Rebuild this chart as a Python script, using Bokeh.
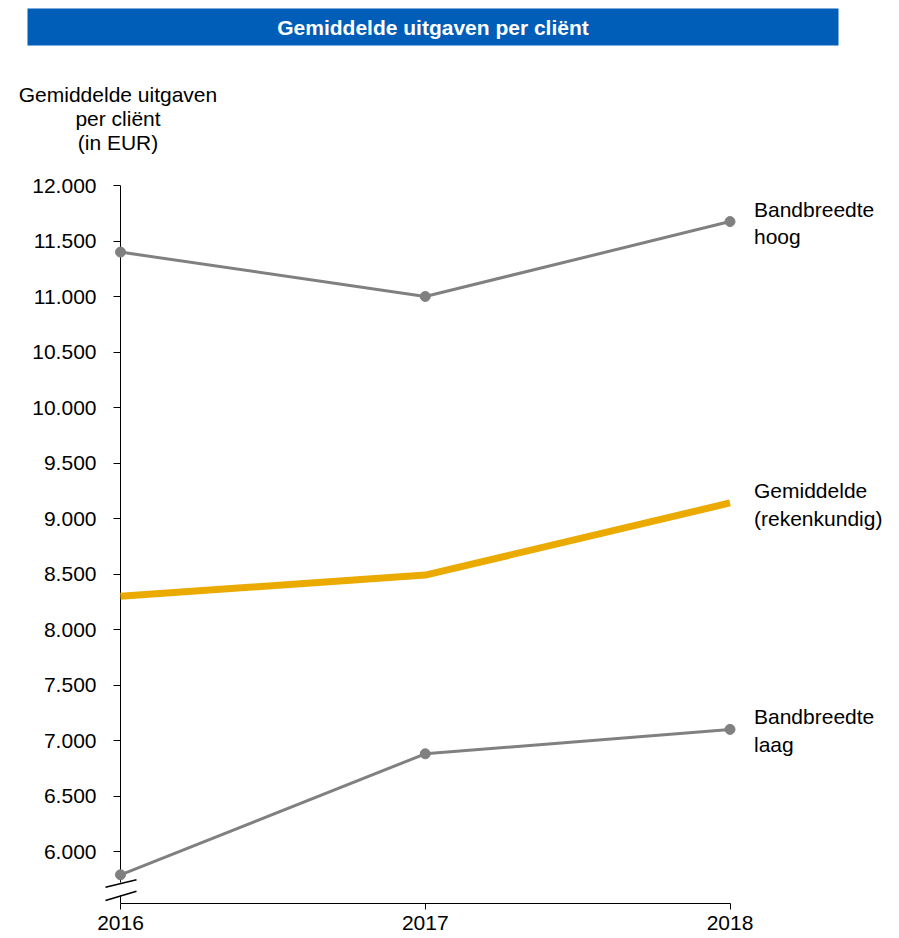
from bokeh.plotting import figure
from bokeh.models import Range1d, FixedTicker, BoxAnnotation, Label, Arrow, ColumnDataSource
from bokeh.core.properties import value
from bokeh.embed import file_html
from bokeh.resources import INLINE

# ---- data ----
years = [2016, 2017, 2018]
hoog = [11400, 11000, 11675]
gemiddelde = [8300, 8490, 9140]
laag = [5790, 6880, 7100]
end_labels = ["Bandbreedte\nhoog", "Gemiddelde\n(rekenkundig)", "Bandbreedte\nlaag"]
end_values = [hoog[-1], gemiddelde[-1], laag[-1]]
y_ticks = list(range(6000, 12001, 500))
x_ticks = [2016, 2017, 2018]
title_text = "Gemiddelde uitgaven per cliënt"
y_title = "Gemiddelde uitgaven\nper cliënt\n(in EUR)"

# ---- layout helpers (page pixel -> data) ----
X0_PX, X_PER_YEAR = 120.0, 304.75
Y12_PX, PX_PER_500 = 185.0, 55.5
def px2x(px):
    return 2016 + (px - X0_PX) / X_PER_YEAR
def py2y(py):
    return 12000 - (py - Y12_PX) * 500.0 / PX_PER_500

W, H = 895, 938
LEFT_B, BOTTOM_B = 6, 35
frame_left_px = LEFT_B
frame_right_px = W
frame_top_px = 0
frame_bottom_px = H - BOTTOM_B

FONT = "Liberation Sans"
FS = "21px"
GRAY = "#808080"
GOLD = "#EAAA00"
BLUE = "#005EB8"

p = figure(width=W, height=H, output_backend="svg", toolbar_location=None,
           x_range=Range1d(px2x(frame_left_px), px2x(frame_right_px)),
           y_range=Range1d(py2y(frame_bottom_px), py2y(frame_top_px)),
           min_border_left=LEFT_B, min_border_right=0, min_border_top=0,
           min_border_bottom=BOTTOM_B)
p.grid.visible = False
p.outline_line_color = None
p.background_fill_color = "white"
p.border_fill_color = "white"

# y axis (drawn at 2016)
ya = p.yaxis[0]
ya.fixed_location = 2016
ya.ticker = FixedTicker(ticks=y_ticks)
ya.major_label_overrides = {v: f"{v:,}".replace(",", ".") for v in y_ticks}
ya.bounds = (py2y(frame_bottom_px), 12000)
ya.minor_tick_line_color = None
ya.major_tick_out = 7
ya.major_tick_in = 0
ya.major_label_standoff = 17
ya.major_label_text_font = FONT
ya.major_label_text_font_size = FS
ya.major_label_text_color = "black"
ya.axis_line_color = "black"
ya.major_tick_line_color = "black"

# x axis
xa = p.xaxis[0]
xa.ticker = FixedTicker(ticks=x_ticks)
xa.bounds = (2016, 2018)
xa.minor_tick_line_color = None
xa.major_tick_out = 6
xa.major_tick_in = 0
xa.major_label_standoff = 6
xa.major_label_text_font = FONT
xa.major_label_text_font_size = FS
xa.major_label_text_color = "black"
xa.axis_line_color = "black"
xa.major_tick_line_color = "black"

# series
p.line(years, gemiddelde, line_color=GOLD, line_width=7, level="overlay")
p.line(years, hoog, line_color=GRAY, line_width=3, level="overlay")
p.scatter(years, hoog, size=10, fill_color=GRAY, line_color=GRAY, level="overlay")
p.line(years, laag, line_color=GRAY, line_width=3, level="overlay")
p.scatter(years, laag, size=10, fill_color=GRAY, line_color=GRAY, level="overlay")

src = ColumnDataSource(dict(x=[years[-1]] * 3, y=end_values, t=end_labels))
p.text(x="x", y="y", text="t", source=src, x_offset=24, y_offset=-24,
       text_font=value(FONT), text_font_size=FS, text_color="black",
       text_baseline="top", text_align="left", text_line_height=1.2)

# axis break
p.add_layout(Arrow(end=None, x_start=2016, y_start=py2y(882), x_end=2016, y_end=py2y(895),
                   line_color="white", line_width=4))
for (a, b), (c, d) in [((105, 886.7), (136, 879.3)), ((105, 900), (136, 890.7))]:
    p.add_layout(Arrow(end=None, x_start=px2x(a), y_start=py2y(b), x_end=px2x(c), y_end=py2y(d),
                       line_color="black", line_width=1.5))

# title bar
p.add_layout(BoxAnnotation(left=px2x(27), right=px2x(838), top=py2y(8), bottom=py2y(45),
                           fill_color=BLUE, fill_alpha=1, line_color=None, level="overlay"))
p.add_layout(Label(x=px2x(432.5), y=py2y(27), text=title_text, text_align="center",
                   text_baseline="middle", text_font=FONT, text_font_size=FS,
                   text_font_style="bold", text_color="white", level="overlay"))

# y title
p.add_layout(Label(x=px2x(117.5), y=py2y(82), text=y_title, text_align="center",
                   text_baseline="top", text_font=FONT, text_font_size=FS,
                   text_color="black", text_line_height=1.05))

open("out.html", "w").write(file_html(p, INLINE))
